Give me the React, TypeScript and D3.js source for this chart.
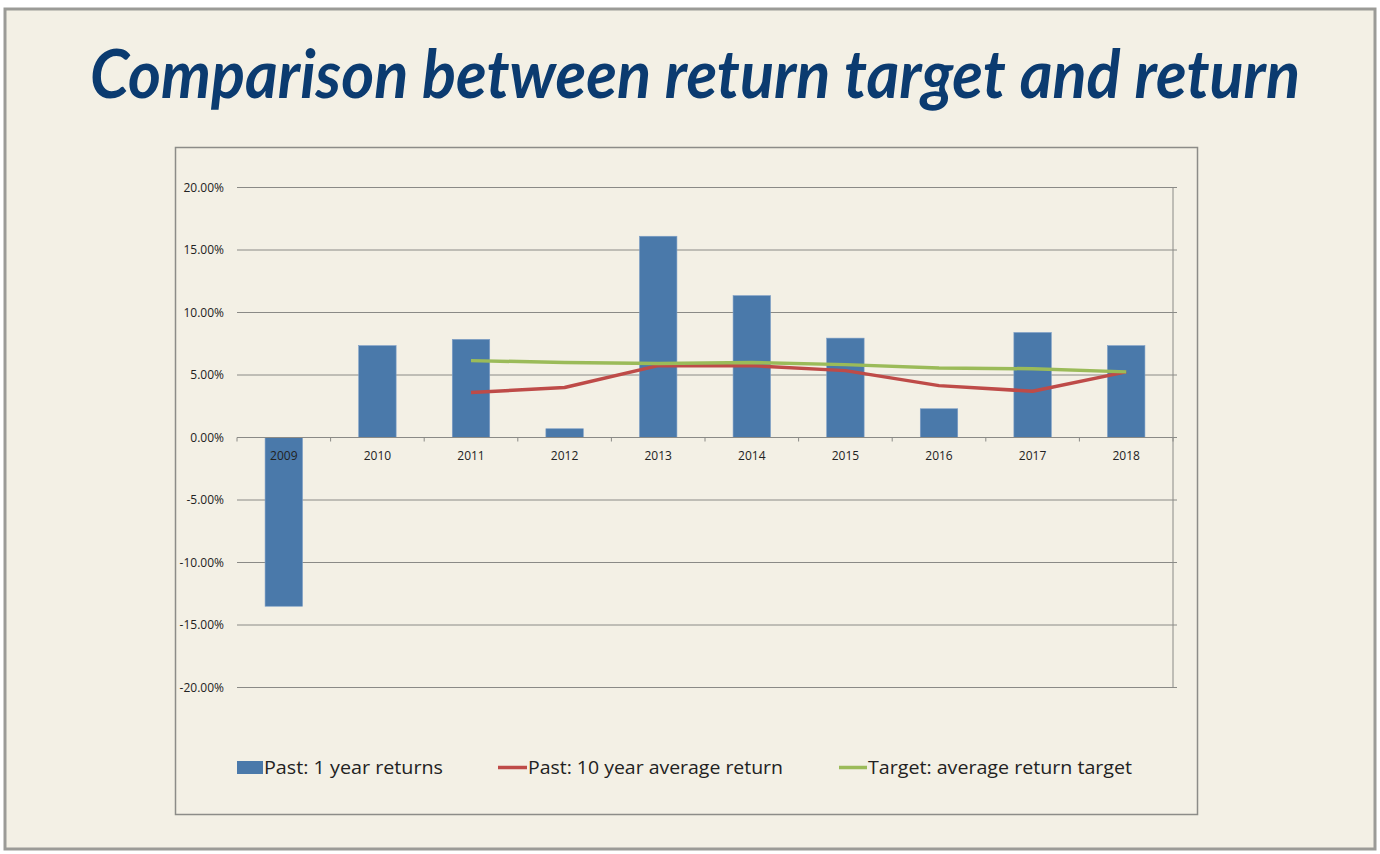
import * as React from 'react'
import * as d3 from 'd3'

// values
const years = ['2009', '2010', '2011', '2012', '2013', '2014', '2015', '2016', '2017', '2018']
const oneYearReturns = [-0.135, 0.0735, 0.0785, 0.007, 0.161, 0.1135, 0.0795, 0.023, 0.084, 0.0735]
const tenYearAvgYears = ['2011', '2012', '2013', '2014', '2015', '2016', '2017', '2018']
const tenYearAvg = [0.036, 0.04, 0.0575, 0.0575, 0.0535, 0.0415, 0.037, 0.0525]
const targetYears = ['2011', '2012', '2013', '2014', '2015', '2016', '2017', '2018']
const targetAvg = [0.0615, 0.06, 0.0592, 0.06, 0.0583, 0.0556, 0.055, 0.0525]
const yTicks = [-0.2, -0.15, -0.1, -0.05, 0, 0.05, 0.1, 0.15, 0.2]
const legendLabels = ['Past: 1 year returns', 'Past: 10 year average return', 'Target: average return target']

const W = 1380
const H = 854
const plot = { left: 237, right: 1173, top: 187.5, bottom: 687.5 }

const BLUE = '#4a79aa'
const RED = '#be4b48'
const GREEN = '#9bbb59'
const GRID = '#8a8a86'
const FONT = "'Open Sans', 'Liberation Sans', sans-serif"

const pct = d3.formatLocale({ decimal: '.', thousands: ',', grouping: [3], currency: ['$', ''], minus: '-' }).format('.2%')

export default function App () {
    const x = d3.scaleBand<string>().domain(years).range([plot.left, plot.right]).paddingInner(0.6).paddingOuter(0.3)
    const y = d3.scaleLinear().domain([-0.2, 0.2]).range([plot.bottom, plot.top])
    const cx = (yr: string) => (x(yr) as number) + x.bandwidth() / 2
    const step = x.step()

    const line = d3.line<[string, number]>()
        .x(d => cx(d[0]))
        .y(d => y(d[1]))

    const redPts = tenYearAvgYears.map((yr, i) => [yr, tenYearAvg[i]] as [string, number])
    const greenPts = targetYears.map((yr, i) => [yr, targetAvg[i]] as [string, number])
    const y0 = y(0)

    return <svg width={W} height={H} style={{ position: 'absolute', left: 0, top: 0, background: '#fff' }}>
        {/* paper frame */}
        <rect x={5} y={9} width={1370} height={840} fill='#f3f0e5' stroke='#9b9b97' strokeWidth={3} />
        <text x={90} y={98} fill='#0b3b70' fontFamily="Lato, 'Open Sans', sans-serif" fontStyle='italic'
            fontWeight={700} fontSize={66} textLength={1210} lengthAdjust='spacingAndGlyphs'>
            Comparison between return target and return
        </text>

        {/* chart box */}
        <rect x={175.5} y={147.5} width={1022} height={667} fill='none' stroke='#8c8c88' strokeWidth={1.5} />

        {/* gridlines */}
        {yTicks.map(t => <line key={t} x1={plot.left} x2={plot.right + 4} y1={y(t)} y2={y(t)} stroke={GRID} strokeWidth={1} />)}
        <line x1={plot.right} x2={plot.right} y1={plot.top} y2={plot.bottom} stroke={GRID} strokeWidth={1} />

        {/* y labels */}
        {yTicks.map(t => <text key={'l' + t} x={224} y={y(t)} dy='0.35em' textAnchor='end'
            fontFamily={FONT} fontSize={12} fill='#222'>{pct(t)}</text>)}

        {/* bars */}
        {years.map((yr, i) => {
            const v = oneYearReturns[i]
            return <rect key={yr} x={x(yr)} width={x.bandwidth()} y={Math.min(y(v), y0)}
                height={Math.abs(y(v) - y0)} fill={BLUE} stroke='#7d9ec6' strokeWidth={0.6} />
        })}

        {/* category axis */}
        <line x1={plot.left} x2={plot.right + 4} y1={y0} y2={y0} stroke={GRID} strokeWidth={1} />
        {d3.range(years.length + 1).map(i => <line key={'t' + i} x1={plot.left + i * step} x2={plot.left + i * step}
            y1={y0} y2={y0 + 4} stroke={GRID} strokeWidth={1} />)}
        {years.map(yr => <text key={'c' + yr} x={cx(yr)} y={y0 + 22} textAnchor='middle'
            fontFamily={FONT} fontSize={12} fill='#222'>{yr}</text>)}

        {/* lines */}
        <path d={line(redPts) || ''} fill='none' stroke={RED} strokeWidth={3.5} strokeLinejoin='round' />
        <path d={line(greenPts) || ''} fill='none' stroke={GREEN} strokeWidth={3.5} strokeLinejoin='round' />

        {/* legend */}
        <rect x={237} y={761} width={26} height={13} fill={BLUE} />
        <text x={264} y={774} fontFamily={FONT} fontSize={19} fill='#222' textLength={179} lengthAdjust='spacingAndGlyphs'>{legendLabels[0]}</text>
        <line x1={498} x2={527} y1={767.5} y2={767.5} stroke={RED} strokeWidth={3.5} />
        <text x={528} y={774} fontFamily={FONT} fontSize={19} fill='#222' textLength={255} lengthAdjust='spacingAndGlyphs'>{legendLabels[1]}</text>
        <line x1={839} x2={867} y1={767.5} y2={767.5} stroke={GREEN} strokeWidth={3.5} />
        <text x={868} y={774} fontFamily={FONT} fontSize={19} fill='#222' textLength={264} lengthAdjust='spacingAndGlyphs'>{legendLabels[2]}</text>
    </svg>
}
